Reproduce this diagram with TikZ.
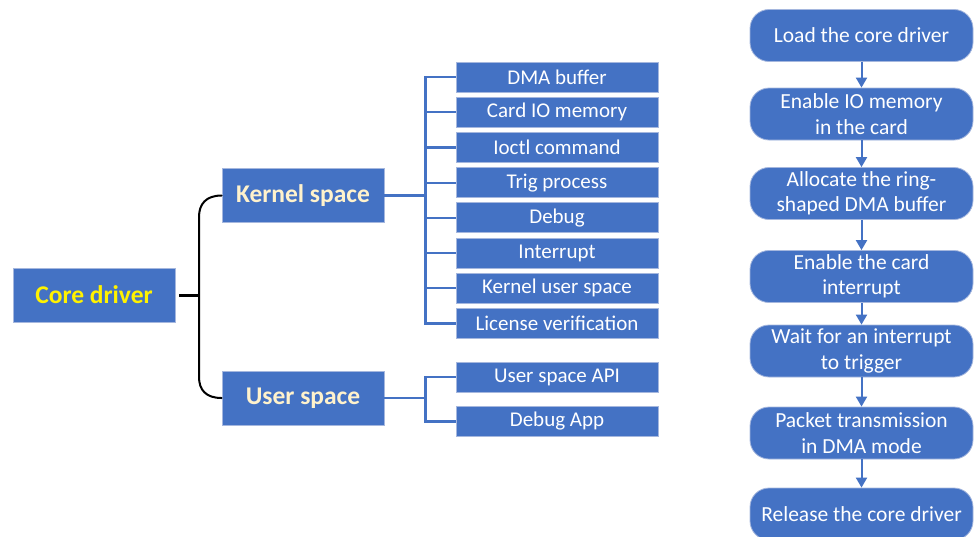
\documentclass[tikz,border=0pt]{standalone}
\usepackage{fontspec}
\setmainfont{Carlito}
\usetikzlibrary{arrows.meta}
\definecolor{boxblue}{RGB}{68,114,196}
\definecolor{boxedge}{RGB}{165,183,222}
\definecolor{cream}{RGB}{255,242,204}
\begin{document}
\begin{tikzpicture}[x=1pt, y=-1pt,
    item/.style={rectangle, fill=boxblue, draw=boxedge, line width=0.8pt, text=white,
      minimum width=202pt, minimum height=30pt, inner sep=0pt,
      font=\fontsize{21}{25}\selectfont},
    group/.style={item, minimum width=162pt, minimum height=54pt, text=cream,
      font=\fontsize{25.5}{30}\selectfont\bfseries},
    root/.style={group, text=yellow},
    stepbox/.style={rectangle, rounded corners=19pt, fill=boxblue, draw=boxedge, line width=0.8pt,
      text=white, minimum width=223pt, minimum height=52pt, inner sep=0pt, align=center,
      font=\fontsize{21.5}{25.5}\selectfont},
    tree/.style={draw=boxblue, line width=2.2pt},
    brace/.style={line width=2pt, line cap=round},
    flow/.style={boxblue, line width=2pt, -{Triangle[width=11pt, length=10pt]}}]
  \useasboundingbox (0,0) rectangle (974,536);

  % left part: the driver and its two spaces
  \node[root] (core) at (94,295) {Core driver};
  \node[group] (kernel) at (303,195.5) {Kernel space};
  \node[group] (user) at (303,398) {User space};

  \coordinate (fork) at (199,295);
  \draw[line width=3pt] (core.east) ++(4,0) -- (fork);
  \draw[brace] (kernel.west) .. controls (206,195.5) and (199,204) .. (199,217)
    -- (199,377) .. controls (199,390) and (206,398) .. (user.west);

  % kernel space items
  \foreach \name/\txt [count=\i from 0] in {dma/DMA buffer, cardio/Card IO memory,
      ioctl/Ioctl command, trig/Trig process, debug/Debug, irq/Interrupt,
      kus/Kernel user space, lic/License verification}
    \node[item] (\name) at (557,77+35.2*\i) {\txt};
  \draw[tree] (kernel.east) -- ++(41,0) coordinate (kbus);
  \foreach \name in {dma,cardio,ioctl,trig,debug,irq,kus,lic}
    \draw[tree] (kbus) |- (\name.west);

  % user space items
  \node[item] (api) at (557,377) {User space API};
  \node[item] (app) at (557,421.5) {Debug App};
  \draw[tree] (user.east) -- ++(41,0) coordinate (ubus);
  \foreach \name in {api,app}
    \draw[tree] (ubus) |- (\name.west);

  % right part: the flow of the driver
  \node[stepbox] (load) at (861.5,35.5) {Load the core driver};
  \node[stepbox] (iomem) at (861.5,114) {Enable IO memory\\in the card};
  \node[stepbox] (alloc) at (861.5,193.5) {Allocate the ring-\\shaped DMA buffer};
  \node[stepbox] (enirq) at (861.5,276.5) {Enable the card\\interrupt};
  \node[stepbox] (wait) at (861.5,351) {Wait for an interrupt\\to trigger};
  \node[stepbox] (packet) at (861.5,433) {Packet transmission\\in DMA mode};
  \node[stepbox] (release) at (861.5,514) {Release the core driver};
  \foreach \a/\b in {load/iomem, iomem/alloc, alloc/enirq, enirq/wait, wait/packet, packet/release}
    \draw[flow] (\a) -- (\b);
\end{tikzpicture}
\end{document}
